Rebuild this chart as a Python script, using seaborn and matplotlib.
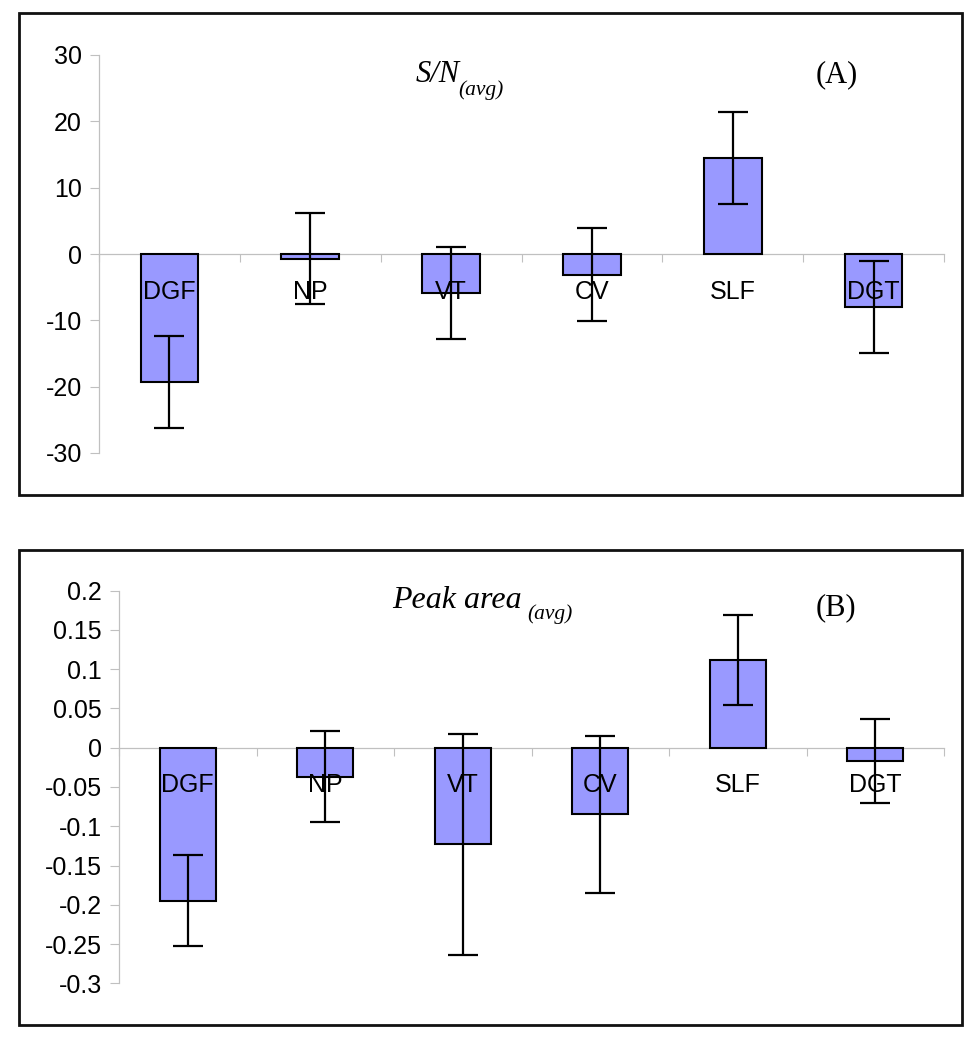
import matplotlib
matplotlib.use('Agg')
import matplotlib.pyplot as plt
from matplotlib.patches import Rectangle
import seaborn as sns

# Categories and values
categories = ['DGF', 'NP', 'VT', 'CV', 'SLF', 'DGT']

sn_mean = [-19.3, -0.7, -5.9, -3.1, 14.5, -8.0]
sn_err = [6.9, 6.9, 6.9, 6.95, 6.9, 6.9]
sn_ticks = [-30, -20, -10, 0, 10, 20, 30]
sn_ticklabels = ['-30', '-20', '-10', '0', '10', '20', '30']

pa_mean = [-0.195, -0.037, -0.123, -0.085, 0.112, -0.017]
pa_err = [0.058, 0.058, 0.141, 0.100, 0.057, 0.054]
pa_ticks = [-0.3, -0.25, -0.2, -0.15, -0.1, -0.05, 0, 0.05, 0.1, 0.15, 0.2]
pa_ticklabels = ['-0.3', '-0.25', '-0.2', '-0.15', '-0.1', '-0.05', '0',
                 '0.05', '0.1', '0.15', '0.2']

BAR_COLOR = '#9999ff'
AXIS_GRAY = '#c0c0c0'
W, H = 980, 1050

sns.set_style('white')
plt.rcParams['font.family'] = ['Liberation Sans', 'DejaVu Sans']
plt.rcParams['text.color'] = 'black'
plt.rcParams['ytick.labelcolor'] = 'black'


def px(x, y):
    # pixel position (from top-left) -> figure fraction
    return x / W, 1 - y / H


def draw_panel(ax, means, errs, ticks, ticklabels, ylim, label_offset):
    sns.barplot(x=categories, y=means, color=BAR_COLOR, saturation=1,
                edgecolor='black', linewidth=1.5, width=0.41, ax=ax)
    for p in ax.patches:
        p.set_zorder(3)
    ax.errorbar(range(len(categories)), means, yerr=errs, fmt='none',
                ecolor='black', elinewidth=1.6, capsize=10.5, capthick=1.6,
                zorder=4)

    ax.set_xlim(-0.5, len(categories) - 0.5)
    ax.set_ylim(*ylim)
    ax.set_yticks(ticks)
    ax.set_yticklabels(ticklabels, fontsize=18, color='black')
    ax.set_xticks([i - 0.5 for i in range(len(categories) + 1)])
    ax.set_xticklabels([])
    ax.set_xlabel('')
    ax.set_ylabel('')

    for s in ['top', 'right']:
        ax.spines[s].set_visible(False)
    ax.spines['bottom'].set_position(('data', 0))
    for s in ['left', 'bottom']:
        ax.spines[s].set_color(AXIS_GRAY)
        ax.spines[s].set_linewidth(0.9)
        ax.spines[s].set_zorder(2)
    ax.tick_params(axis='y', direction='out', length=6.3, width=0.8,
                   color=AXIS_GRAY, pad=6, left=True)
    ax.tick_params(axis='x', direction='out', length=5.8, width=0.8,
                   color=AXIS_GRAY, bottom=True)

    for i, c in enumerate(categories):
        ax.annotate(c, xy=(i, 0), xytext=(0, label_offset),
                    textcoords='offset points', ha='center', va='baseline',
                    fontsize=18, color='black', zorder=5)


fig = plt.figure(figsize=(W / 100, H / 100), dpi=100)

# panel A
x0, y1 = px(99, 55)
x1, y0 = px(944, 453)
ax_a = fig.add_axes([x0, y0, x1 - x0, y1 - y0])
draw_panel(ax_a, sn_mean, sn_err, sn_ticks, sn_ticklabels, (-30, 30), -32.5)

# panel B
x0, y1 = px(119, 590.7)
x1, y0 = px(944, 983.3)
ax_b = fig.add_axes([x0, y0, x1 - x0, y1 - y0])
draw_panel(ax_b, pa_mean, pa_err, pa_ticks, pa_ticklabels, (-0.3, 0.2), -32)

# titles
serif = ['Liberation Serif', 'DejaVu Serif']
t = fig.text(*px(416, 82), 'S/N', family=serif, style='italic', fontsize=22,
             va='baseline', ha='left', color='black')
ax_a.annotate('(avg)', xy=(1, 0), xycoords=t, xytext=(-1, -4),
              textcoords='offset points', family=serif, style='italic',
              fontsize=15.5, va='baseline', ha='left', color='black',
              annotation_clip=False)
fig.text(*px(816, 82), '(A)', family=serif, fontsize=22, va='baseline',
         ha='left', color='black')

t = fig.text(*px(392, 608), 'Peak area', family=serif, style='italic',
             fontsize=23, va='baseline', ha='left', color='black')
ax_b.annotate('(avg)', xy=(1, 0), xycoords=t, xytext=(4, -3),
              textcoords='offset points', family=serif, style='italic',
              fontsize=15.5, va='baseline', ha='left', color='black',
              annotation_clip=False)
fig.text(*px(816, 615), '(B)', family=serif, fontsize=22, va='baseline',
         ha='left', color='black')

# frames around each panel
for top, bottom in [(13, 495), (550, 1025)]:
    fx0, fy0 = px(19, bottom)
    fx1, fy1 = px(962, top)
    fig.add_artist(Rectangle((fx0, fy0), fx1 - fx0, fy1 - fy0,
                             transform=fig.transFigure, fill=False,
                             edgecolor='#111111', linewidth=2))

fig.savefig('out.png', dpi=100)
